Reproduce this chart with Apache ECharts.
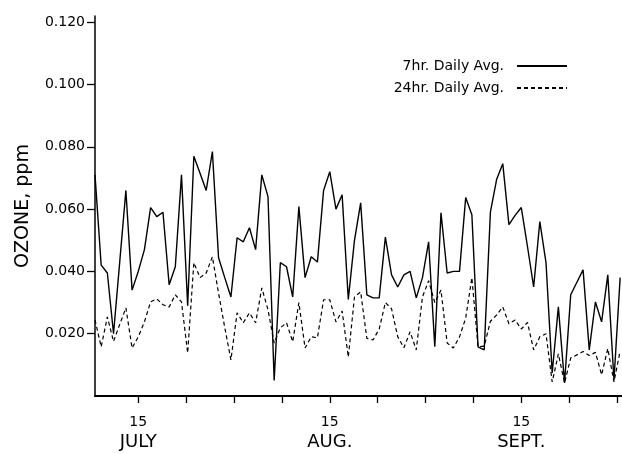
<!DOCTYPE html>
<html>
<head>
<meta charset="utf-8">
<script src="https://cdn.jsdelivr.net/npm/echarts@6/dist/echarts.min.js"></script>
<style>
html,body{margin:0;padding:0;background:#fff;}
#chart{width:622px;height:454px;}
</style>
</head>
<body>
<div id="chart"></div>
<script>
// Day numbers counted from July 1 (day 1 = July 1)
const days = [8,9,10,11,12,13,14,15,16,17,18,19,20,21,22,23,24,25,26,27,28,29,30,31,32,33,34,35,36,37,38,39,40,41,42,43,44,45,46,47,48,49,50,51,52,53,54,55,56,57,58,59,60,61,62,63,64,65,66,67,68,69,70,71,72,73,74,75,76,77,78,79,80,81,82,83,84,85,86,87,88,89,90,91,92,93];
const avg7hr = [0.071,0.042,0.0395,0.020,0.043,0.066,0.034,0.040,0.047,0.0605,0.0576,0.059,0.0357,0.0415,0.071,0.029,0.077,0.0715,0.066,0.0785,0.0444,0.038,0.0318,0.0508,0.0495,0.054,0.047,0.071,0.064,0.005,0.0428,0.0415,0.0318,0.0608,0.038,0.0447,0.043,0.066,0.072,0.060,0.0646,0.031,0.050,0.062,0.0325,0.0315,0.0315,0.051,0.0389,0.035,0.0389,0.040,0.0315,0.038,0.0495,0.0158,0.0588,0.0395,0.040,0.040,0.0637,0.0582,0.0158,0.0148,0.059,0.0695,0.0746,0.055,0.058,0.0605,0.048,0.035,0.056,0.0428,0.0074,0.0286,0.0042,0.0325,0.0365,0.0405,0.0148,0.0302,0.0238,0.0389,0.0051,0.038];
const avg24hr = [0.0244,0.0158,0.0254,0.0175,0.023,0.0283,0.0154,0.019,0.0238,0.0302,0.0312,0.0293,0.0286,0.0325,0.0302,0.0138,0.0428,0.038,0.0395,0.0447,0.033,0.022,0.0116,0.0267,0.0235,0.0267,0.0235,0.0347,0.0277,0.017,0.0219,0.0235,0.0174,0.030,0.0154,0.019,0.0187,0.0309,0.0309,0.0238,0.0273,0.0125,0.0318,0.0334,0.0185,0.018,0.0215,0.030,0.028,0.019,0.0155,0.0206,0.0148,0.0318,0.037,0.030,0.034,0.017,0.0154,0.019,0.025,0.038,0.0158,0.016,0.024,0.026,0.0286,0.0232,0.0244,0.0215,0.0236,0.0148,0.019,0.020,0.0045,0.0135,0.0042,0.0122,0.0132,0.0143,0.013,0.014,0.0068,0.0152,0.0045,0.0145];
const xTickDays = [15,22.75,30.5,38.25,46,53.75,61.5,69.25,77,84.75,92.5];
const xLabelDays = [15,46,77];
const xLabelMonths = ['JULY','AUG.','SEPT.'];
const yTicks = [0.02,0.04,0.06,0.08,0.10,0.12];
const seriesNames = ['7hr. Daily Avg.','24hr. Daily Avg.'];

const FONT = 'DejaVu Sans';
const chart = echarts.init(document.getElementById('chart'), null, {renderer:'canvas'});
const pairs = (vals) => days.map((d,i) => [d, vals[i]]);

const legendBase = {orient:'vertical',align:'right',right:49,itemWidth:50,itemHeight:14,
  itemStyle:{opacity:0},
  textStyle:{fontFamily:FONT,fontSize:14,color:'#000',padding:[0,8,0,0]},selectedMode:false};

chart.setOption({
  backgroundColor:'#fff',
  animation:false,
  grid:{left:95,right:0,top:16,bottom:58,containLabel:false,outerBoundsMode:'none'},
  legend:[
    Object.assign({}, legendBase, {data:[seriesNames[0]],top:54}),
    Object.assign({}, legendBase, {data:[seriesNames[1]],top:76})
  ],
  xAxis:{
    type:'value',min:8,max:93.3,
    splitLine:{show:false},
    axisLine:{show:true,onZero:false,lineStyle:{color:'#000',width:2}},
    axisTick:{show:true,customValues:xTickDays,length:7,lineStyle:{color:'#000',width:1.3}},
    axisLabel:{
      customValues:xLabelDays,margin:17,
      formatter:(v)=>{const i=xLabelDays.indexOf(v);return '{d|15}\n{m|'+(i>=0?xLabelMonths[i]:'')+'}';},
      rich:{
        d:{fontFamily:FONT,fontSize:14,color:'#000',lineHeight:18,align:'center'},
        m:{fontFamily:FONT,fontSize:18,color:'#000',lineHeight:22,align:'center'}
      }
    }
  },
  yAxis:{
    type:'value',min:0,max:0.122,
    name:'OZONE, ppm',nameLocation:'middle',nameGap:62,
    nameTextStyle:{fontFamily:FONT,fontSize:19,color:'#000'},
    splitLine:{show:false},
    axisLine:{show:true,lineStyle:{color:'#000',width:1.5}},
    axisTick:{show:true,customValues:yTicks,length:8,lineStyle:{color:'#000',width:1.3}},
    axisLabel:{customValues:yTicks,margin:10,fontFamily:FONT,fontSize:14,color:'#000',
      formatter:(v)=>v.toFixed(3)}
  },
  series:[
    {name:seriesNames[0],type:'line',data:pairs(avg7hr),symbol:'none',
     lineStyle:{color:'#000',width:1.4,type:'solid'},itemStyle:{color:'#000'}},
    {name:seriesNames[1],type:'line',data:pairs(avg24hr),symbol:'none',
     lineStyle:{color:'#000',width:1.2,type:[4,3]},itemStyle:{color:'#000'}}
  ]
});
</script>
</body>
</html>
